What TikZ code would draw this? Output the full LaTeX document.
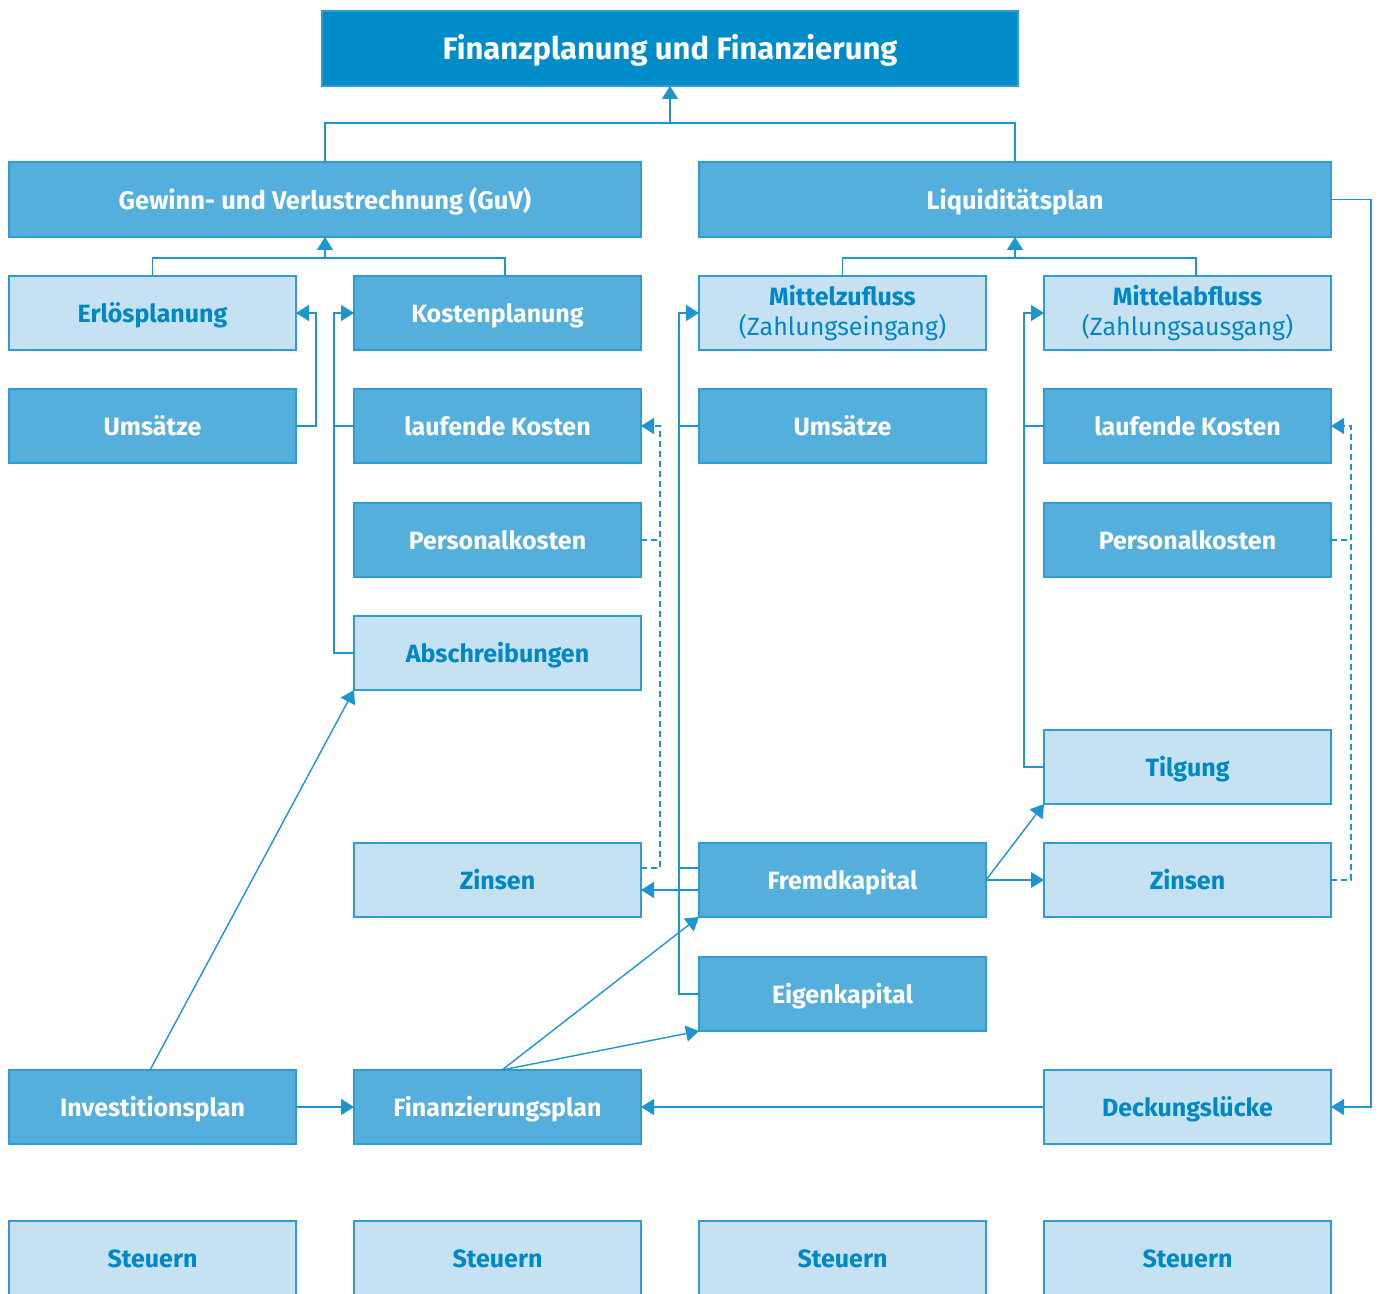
\documentclass[tikz,border=0pt]{standalone}
\usepackage{fontspec}
\setmainfont{Fira Sans}
\usetikzlibrary{positioning,calc,arrows.meta}
\definecolor{topblue}{HTML}{008CC8}
\definecolor{midblue}{HTML}{55AFDC}
\definecolor{lightblue}{HTML}{C5E1F2}
\definecolor{rimblue}{HTML}{2E9DD5}
\definecolor{lineblue}{HTML}{1F95D0}
\definecolor{textblue}{HTML}{0088C6}

\begin{document}
\begin{tikzpicture}[x=1pt,y=1pt,
				box/.style={minimum width=287pt,minimum height=74pt,inner sep=0pt,outer sep=0pt,draw=rimblue,line width=1.2pt,align=center,font=\fontsize{25}{30}\selectfont\bfseries},
				oneline/.style={text height=19pt,text depth=0pt},
				dark/.style={box,oneline,fill=midblue,text=white},
				light/.style={box,oneline,fill=lightblue,text=textblue},
				twoline/.style={box,fill=lightblue,text=textblue},
				conn/.style={draw=lineblue,line width=1.4pt},
				arr/.style={conn,-{Triangle[length=13pt,width=16pt]}},
				dashconn/.style={conn,dash pattern=on 6pt off 4pt}]
				\useasboundingbox (0,0) rectangle (1381,1293);
				% top rows
				\node (TOP) [box,fill=topblue,text=white,minimum width=696pt,minimum height=75pt,text height=23pt,text depth=0pt,font=\fontsize{31}{36}\selectfont\bfseries] at (670,1244.5) {Finanzplanung und Finanzierung};
				\node (GUV) [dark,minimum width=632pt,minimum height=75pt,text height=21pt,font=\fontsize{25.5}{30}\selectfont\bfseries] at (325,1093.5) {Gewinn- und Verlustrechnung (GuV)};
				\node (LIQ) [dark,minimum width=632pt,minimum height=75pt,text height=21pt,font=\fontsize{25.5}{30}\selectfont\bfseries] at (1015,1093.5) {Liquiditätsplan};
				% columns
				\node (ERL)  [light]   at (152.5,980) {Erlösplanung};
				\node (KOS)  [dark]    at (497.5,980) {Kostenplanung};
				\node (MZU)  [twoline] at (842.5,980) {Mittelzufluss\\{\mdseries(Zahlungseingang)}};
				\node (MAB)  [twoline] at (1187.5,980) {Mittelabfluss\\{\mdseries(Zahlungsausgang)}};
				\node (UMS1) [dark]    at (152.5,867) {Umsätze};
				\node (LK1)  [dark]    at (497.5,867) {laufende Kosten};
				\node (UMS2) [dark]    at (842.5,867) {Umsätze};
				\node (LK2)  [dark]    at (1187.5,867) {laufende Kosten};
				\node (PK1)  [dark]    at (497.5,753) {Personalkosten};
				\node (PK2)  [dark]    at (1187.5,753) {Personalkosten};
				\node (AB)   [light]   at (497.5,640) {Abschreibungen};
				\node (TIL)  [light]   at (1187.5,526) {Tilgung};
				\node (ZI1)  [light]   at (497.5,413) {Zinsen};
				\node (FK)   [dark]    at (842.5,413) {Fremdkapital};
				\node (ZI2)  [light]   at (1187.5,413) {Zinsen};
				\node (EK)   [dark]    at (842.5,299) {Eigenkapital};
				\node (INV)  [dark]    at (152.5,186) {Investitionsplan};
				\node (FIN)  [dark]    at (497.5,186) {Finanzierungsplan};
				\node (DL)   [light]   at (1187.5,186) {Deckungslücke};
				\node (ST1)  [light]   at (152.5,35) {Steuern};
				\node (ST2)  [light]   at (497.5,35) {Steuern};
				\node (ST3)  [light]   at (842.5,35) {Steuern};
				\node (ST4)  [light]   at (1187.5,35) {Steuern};
				
				\draw[conn] (GUV.north) -- ++(0,39) -| (LIQ.north);
				\draw[arr] ([yshift=-37pt]TOP.south) -- (TOP.south);
				\draw[conn] (ERL.north) -- ++(0,18) -| ([xshift=7.5pt]KOS.north);
				\draw[arr] ([yshift=-21pt]GUV.south) -- (GUV.south);
				\draw[conn] (MZU.north) -- ++(0,18) -| ([xshift=8.5pt]MAB.north);
				\draw[arr] ([yshift=-21pt]LIQ.south) -- (LIQ.south);
				\draw[arr] (UMS1.east) -- ++(20,0) |- (ERL.east);
				\draw[arr] (AB.west) -- ++(-20,0) |- (KOS.west);
				\draw[conn] (LK1.west) -- ++(-20,0);
				\draw[dashconn] (PK1.east) -- ++(19,0);
				\draw[arr,dashconn] ([yshift=12pt]ZI1.east) -- ++(19,0) |- (LK1.east);
				\draw[arr] (EK.west) -- ++(-20,0) |- (MZU.west);
				\draw[conn] (UMS2.west) -- ++(-20,0);
				\draw[conn] ([yshift=12pt]FK.west) -- ++(-20,0);
				\draw[arr] ([yshift=-10pt]FK.west) -- ([yshift=-10pt]ZI1.east);
				\draw[arr] (FK.east) -- (ZI2.west);
				\draw[arr] (FK.east) -- (TIL.south west);
				\draw[arr] (TIL.west) -- ++(-20,0) |- (MAB.west);
				\draw[conn] (LK2.west) -- ++(-20,0);
				\draw[dashconn] (PK2.east) -- ++(20,0);
				\draw[arr,dashconn] (ZI2.east) -- ++(20,0) |- (LK2.east);
				\draw[arr] (LIQ.east) -- ++(40,0) |- (DL.east);
				\draw[arr] (DL.west) -- (FIN.east);
				\draw[arr] (INV.east) -- (FIN.west);
				\draw[arr] ([xshift=-2.5pt]INV.north) -- (AB.south west);
				\draw[arr] ([xshift=4.5pt]FIN.north) -- (FK.south west);
				\draw[arr] ([xshift=4.5pt]FIN.north) -- (EK.south west);
			\end{tikzpicture}
\end{document}
